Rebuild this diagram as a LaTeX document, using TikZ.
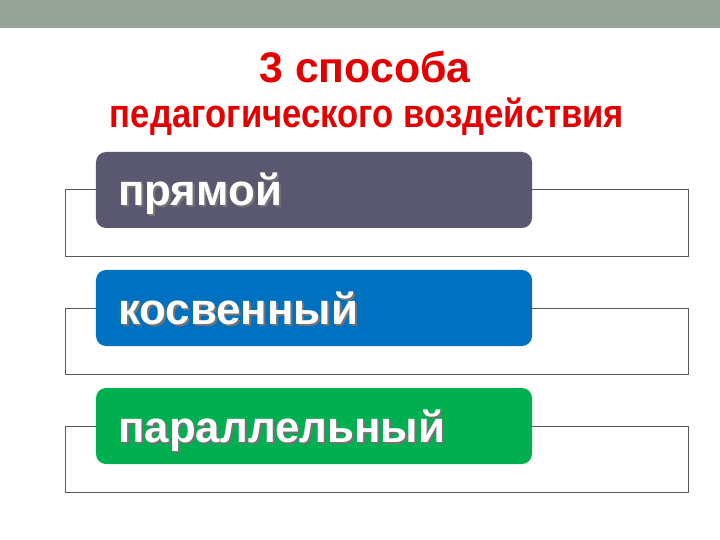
\documentclass[tikz,border=0pt]{standalone}
\usepackage{fontspec}
\setmainfont{Liberation Sans}
\usepackage{graphicx}

\definecolor{barGray}{RGB}{149,163,152}
\definecolor{titleRed}{RGB}{228,0,0}
\definecolor{waySlate}{RGB}{90,88,112}
\definecolor{wayBlue}{RGB}{0,112,192}
\definecolor{wayGreen}{RGB}{0,176,80}
\definecolor{frameGray}{RGB}{90,90,90}

% white text with a grey drop shadow
\newcommand{\dropshadow}[1]{\makebox[0pt][l]{\kern2bp\raisebox{-2bp}{\color{black!55}#1}}#1}

\tikzset{
    frame/.style={draw=frameGray, line width=1bp, fill=white, minimum width=622bp, minimum height=66bp, inner sep=0pt},
    tag/.style={rounded corners=10bp, minimum width=436bp, minimum height=76bp, inner sep=0pt},
    tagtext/.style={anchor=base west, inner sep=0pt, text=white, font=\bfseries\fontsize{44}{44}\selectfont},
}

\begin{document}
\begin{tikzpicture}[x=1bp, y=-1bp]
    \useasboundingbox (0,0) rectangle (720,540);
    \fill[barGray] (0,0) rectangle (720,28);

    % title
    \node[anchor=base, inner sep=0pt, text=titleRed, font=\bfseries\fontsize{43}{43}\selectfont] at (365,83) (title) {3 способа};
    \node[anchor=base, inner sep=0pt, text=titleRed, font=\bfseries\fontsize{40}{40}\selectfont] at (367,128) (subtitle) {\scalebox{0.87}[1]{педагогического воздействия}};

    % frames behind
    \node[frame] at (377,223) (f1) {};
    \node[frame] at (377,341) (f2) {};
    \node[frame] at (377,459) (f3) {};

    % coloured tags
    \node[tag, fill=waySlate] at (314,190) (direct) {};
    \node[tag, fill=wayBlue] at (314,308) (indirect) {};
    \node[tag, fill=wayGreen] at (314,426) (parallel) {};

    \node[tagtext] at (118,206) (directtext) {\dropshadow{прямой}};
    \node[tagtext] at (118,324) (indirecttext) {\dropshadow{косвенный}};
    \node[tagtext] at (118,442) (paralleltext) {\dropshadow{параллельный}};
\end{tikzpicture}
\end{document}
